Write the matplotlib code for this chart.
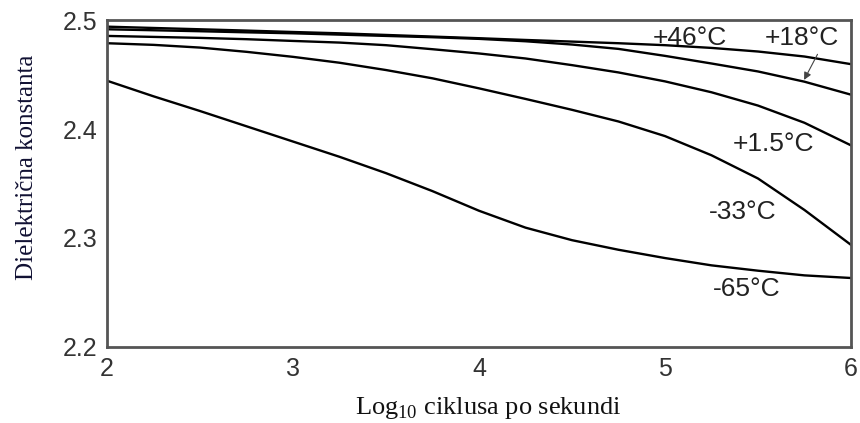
import matplotlib.pyplot as plt

plt.rcParams['font.family'] = ['Liberation Sans', 'DejaVu Sans']
plt.rcParams['mathtext.fontset'] = 'custom'
plt.rcParams['mathtext.rm'] = 'Liberation Serif'

# log10 of cycles per second
freq = [2, 2.25, 2.5, 2.75, 3, 3.25, 3.5, 3.75, 4,
        4.25, 4.5, 4.75, 5, 5.25, 5.5, 5.75, 6]

eps_p46 = [2.4939, 2.4927, 2.4915, 2.4903, 2.4890, 2.4878, 2.4863, 2.4848, 2.4833,
           2.4817, 2.4802, 2.4787, 2.4769, 2.4744, 2.4711, 2.4665, 2.4595]
eps_p18 = [2.4915, 2.4906, 2.4897, 2.4887, 2.4878, 2.4866, 2.4854, 2.4842, 2.4827,
           2.4805, 2.4775, 2.4735, 2.4671, 2.4601, 2.4528, 2.4434, 2.4315]
eps_p1_5 = [2.4854, 2.4845, 2.4836, 2.4824, 2.4808, 2.4793, 2.4769, 2.4732, 2.4693,
            2.4647, 2.4586, 2.4519, 2.4437, 2.4337, 2.4215, 2.4057, 2.3850]
eps_m33 = [2.4787, 2.4772, 2.4747, 2.4708, 2.4662, 2.4608, 2.4541, 2.4465, 2.4373,
           2.4276, 2.4176, 2.4069, 2.3935, 2.3759, 2.3546, 2.3257, 2.2937]
eps_m65 = [2.4443, 2.4300, 2.4165, 2.4025, 2.3885, 2.3745, 2.3595, 2.3430, 2.3250,
           2.3095, 2.2980, 2.2892, 2.2816, 2.2749, 2.2700, 2.2657, 2.2633]

curve_labels = ['+46°C', '+18°C', '+1.5°C', '-33°C', '-65°C']
label_x = [5.134, 5.734, 5.584, 5.42, 5.439]
label_y = [2.4833, 2.4833, 2.3865, 2.3236, 2.2536]

fig = plt.figure(figsize=(8.6, 4.23), dpi=100)
ax = fig.add_axes([0.1244, 0.1797, 0.8651, 0.7730])

for ys in [eps_p46, eps_p18, eps_p1_5, eps_m33, eps_m65]:
    ax.plot(freq, ys, color='black', lw=1.7, solid_joinstyle='round')

for txt, lx, ly in zip(curve_labels, label_x, label_y):
    ax.text(lx, ly, txt, ha='center', va='center', fontsize=19, color='#222222')

# small arrow from the +18 label down to its curve
ax.annotate('', xy=(5.741, 2.4428), xytext=(5.827, 2.4708),
            arrowprops=dict(arrowstyle='-|>', color='#444444', lw=0.8,
                            mutation_scale=11))

ax.set_xlim(2, 6)
ax.set_ylim(2.2, 2.5)
ax.set_xticks([2, 3, 4, 5, 6])
ax.set_yticks([2.2, 2.3, 2.4, 2.5])
ax.set_yticklabels(['2.2', '2.3', '2.4', '2.5'])
ax.tick_params(length=0, labelsize=18, labelcolor='#333333')
ax.tick_params(axis='y', pad=7)
ax.tick_params(axis='x', pad=7)

for sp in ax.spines.values():
    sp.set_color('#555555')
    sp.set_linewidth(2)

ax.set_ylabel('Dielektrična konstanta', family='Liberation Serif', fontsize=18,
              color='#111133')
ax.yaxis.set_label_coords(-0.093, 0.55)
ax.set_xlabel('Log$_{10}$ ciklusa po sekundi', family='Liberation Serif',
              fontsize=19, color='#111111', va='top')
ax.xaxis.set_label_coords(0.513, -0.148)

fig.savefig('out.png', dpi=100)
